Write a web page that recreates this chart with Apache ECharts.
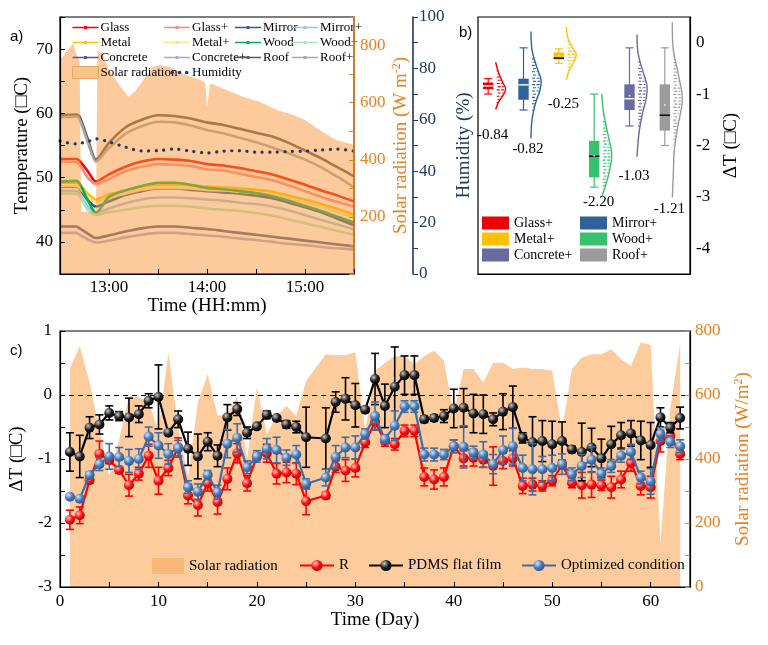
<!DOCTYPE html>
<html><head><meta charset="utf-8">
<script src="https://cdn.jsdelivr.net/npm/echarts@6.0.0/dist/echarts.min.js"></script>
<style>html,body{margin:0;padding:0;background:#fff}#c{width:768px;height:645px}</style>
</head><body><div id="c"></div>
<script>
// ---------------- Panel a data ----------------
const timesA = ['12:30','12:40','12:42','12:47','12:52','13:00','13:10','13:20','13:30','13:40','13:50','14:00','14:10','14:20','14:30','14:40','14:50','15:00','15:10','15:20','15:30'];
const glass     = [52.9,52.9,52.6,51.0,49.4,50.5,51.7,52.5,52.9,52.8,52.6,52.1,51.9,51.5,51.0,50.5,49.7,48.9,48.0,47.2,46.3];
const glassP    = [52.5,52.4,52.0,50.0,49.0,49.8,51.0,51.7,52.1,52.0,51.8,51.3,51.1,50.6,50.1,49.6,48.8,47.9,47.0,46.2,45.5];
const mirror    = [48.6,48.6,48.3,46.5,45.5,46.3,47.3,47.9,48.3,48.3,48.1,47.9,47.7,47.5,47.2,46.8,46.1,45.4,44.6,43.6,42.6];
const mirrorP   = [47.9,47.9,47.5,45.5,44.6,45.2,46.0,46.6,46.9,46.9,46.8,46.6,46.4,46.1,45.9,45.5,44.9,44.2,43.4,42.7,41.9];
const metal     = [49.2,49.2,48.9,47.5,46.6,47.4,48.0,48.6,48.9,48.9,48.8,48.6,48.5,48.3,48.1,47.8,47.2,46.6,45.9,45.1,44.2];
const metalP    = [48.7,48.7,48.4,47.0,46.2,46.9,47.5,48.1,48.4,48.4,48.3,48.1,48.0,47.8,47.6,47.3,46.7,46.1,45.4,44.6,43.7];
const wood      = [49.4,49.5,49.1,46.5,44.5,47.0,48.0,48.7,49.2,49.2,48.9,48.4,48.2,47.9,47.6,47.1,46.4,45.6,44.8,43.9,43.0];
const woodP     = [47.5,47.5,47.1,45.0,44.2,44.6,45.0,45.4,45.6,45.6,45.5,45.2,45.0,44.8,44.5,44.1,43.5,42.9,42.3,41.7,41.1];
const concrete  = [42.4,42.4,42.1,41.3,40.6,41.0,41.6,42.1,42.4,42.4,42.2,42.0,41.7,41.4,41.1,40.8,40.5,40.2,39.9,39.6,39.3];
const concreteP = [41.4,41.4,41.1,40.4,39.9,40.2,40.7,41.1,41.4,41.4,41.2,41.0,40.8,40.5,40.3,40.0,39.7,39.5,39.2,39.0,38.8];
const roof      = [59.7,59.8,59.5,56.0,52.8,55.4,57.8,59.0,59.7,59.6,59.2,58.6,58.2,57.6,57.0,56.4,55.4,54.2,53.0,51.6,50.2];
const roofP     = [59.4,59.5,59.1,55.5,52.5,54.6,56.8,58.0,58.7,58.6,58.1,57.4,56.9,56.2,55.5,54.7,53.8,52.8,51.6,50.1,48.5];
const humidity  = [51.7,50.6,50.8,51.5,52.6,51.4,49.4,47.9,48.0,48.6,47.8,47.1,47.8,48.0,47.4,47.4,47.7,47.8,48.3,48.6,47.8];
const solarTimesA = ['12:30','12:33','12:35','12:38','12:40','12:42','12:43','12:52','12:53','12:56','13:00','13:07','13:12','13:16','13:21','13:27','13:31','13:37','13:47','13:56','13:59','14:00','14:02','14:12','14:22','14:32','14:43','14:53','15:00','15:09','15:19','15:30'];
const solarA = [749,770,784,808,770,749,218,218,784,770,714,656,621,640,679,726,732,726,697,679,670,586,668,644,621,603,574,557,539,504,469,452];

// ---------------- Panel b data ----------------
const bCats = ['Glass+','Mirror+','Metal+','Wood+','Concrete+','Roof+'];
// [whisker low, Q1, median, Q3, whisker high]
const boxStats = [
  [-1.00,-0.905,-0.84,-0.775,-0.70],
  [-1.31,-1.11,-0.82,-0.70,-0.10],
  [-0.40,-0.33,-0.30,-0.19,-0.12],
  [-2.81,-2.62,-2.21,-1.91,-1.00],
  [-1.62,-1.31,-1.09,-0.81,-0.10],
  [-2.00,-1.71,-1.41,-0.81,-0.10]
];
const meanVals = [-0.84,-0.82,-0.25,-2.20,-1.03,-1.21];
// half-violin outline: [ΔT value, relative density]
const violins = [
  [[-0.38,0],[-0.59,0.3],[-0.79,0.75],[-0.90,1],[-1.02,0.75],[-1.15,0.3],[-1.30,0]],
  [[0.22,0],[-0.14,0.1],[-0.46,0.55],[-0.72,1],[-0.92,0.9],[-1.18,0.45],[-1.50,0.1],[-1.86,0]],
  [[0.31,0],[0.06,0.2],[-0.14,0.75],[-0.23,1],[-0.37,0.75],[-0.53,0.3],[-0.72,0]],
  [[-1.00,0],[-1.37,0.2],[-1.76,0.6],[-2.16,1],[-2.48,0.8],[-2.77,0.4],[-3.00,0]],
  [[0.16,0],[-0.20,0.1],[-0.53,0.55],[-0.85,1],[-1.11,0.9],[-1.37,0.55],[-1.76,0.2],[-2.22,0]],
  [[0.40,0],[-0.14,0.1],[-0.66,0.65],[-1.11,1],[-1.63,0.55],[-2.09,0.2],[-2.55,0.1],[-3.01,0]]
];

// ---------------- Panel c data (day 1..63) ----------------
const solarC = [682,753,640,490,345,460,597,593,577,489, 733,499,344,577,665,535,540,594,400,624,
  478,535,566,535,644,686,727,725,725,733, 489,676,700,722,722,696,722,738,707,541,
  681,681,639,701,701,681,686,681,681,676, 489,681,717,727,727,743,712,691,764,757, 136,560,760];
const rVals = [-1.95,-1.88,-1.33,-0.92,-1.02,-1.17,-1.41,-1.23,-0.95,-1.34, -1.14,-0.82,-1.57,-1.72,-1.38,-1.67,-1.31,-0.91,-1.38,-0.96,
  -0.91,-1.23,-1.21,-1.23,-1.66,null,-1.57,-1.12,-1.18,-1.14, -0.74,-0.42,-0.72,-0.77,-0.56,-0.56,-1.28,-1.32,-1.28,-0.80,
  -0.99,-0.98,-1.01,-1.11,-1.03,-0.99,-1.42,-1.40,-1.42,-1.34, -1.09,-1.37,-1.41,-1.40,-1.41,-1.44,-1.32,-1.06,-1.42,-1.44, -0.72,-0.64,-0.92];
const rErr = [0.15,0.13,0.05,0.20,0.05,0.05,0.17,0.10,0.18,0.21, 0.12,0.15,0.13,0.17,0.12,0.19,0.17,0.15,0.12,0.05,
  0.14,0.16,0.16,0.17,0.21,null,0.05,0.09,0.17,0.14, 0.08,0.12,0.08,0.09,0.09,0.09,0.14,0.15,0.14,0.10,
  0.12,0.13,0.12,0.30,0.12,0.12,0.12,0.10,0.08,0.08, 0.06,0.08,0.20,0.20,0.08,0.17,0.13,0.13,0.14,0.17, 0.17,0.08,0.09];
const pdmsVals = [-0.89,-0.96,-0.51,-0.46,-0.28,-0.33,-0.35,-0.30,-0.09,-0.03, -0.59,-0.38,-0.84,-0.96,-0.73,-0.95,-0.35,-0.22,-0.59,-0.49,
  -0.31,-0.36,-0.46,-0.50,-0.66,null,-0.68,-0.11,-0.06,-0.16, -0.23,0.25,-0.17,0.13,0.31,0.31,-0.38,-0.36,-0.33,-0.21,
  -0.20,-0.29,-0.30,-0.38,-0.26,-0.19,-0.67,-0.74,-0.72,-0.77, -0.72,-0.85,-0.89,-0.82,-0.99,-0.77,-0.63,-0.60,-0.71,-0.78, -0.35,-0.51,-0.36];
const pdmsErr = [0.30,0.33,0.17,0.15,0.11,0.07,0.30,0.13,0.11,0.50, 0.03,0.13,0.26,0.35,0.14,0.17,0.20,0.10,0.09,0.02,
  0.06,0.03,0.06,0.09,0.47,null,0.48,0.16,0.33,0.34, 0.03,0.40,0.34,0.62,0.30,0.30,0.05,0.05,0.10,0.30,
  0.30,0.30,0.30,0.10,0.28,0.33,0.08,0.40,0.32,0.36, 0.30,0.05,0.45,0.30,0.30,0.28,0.20,0.20,0.30,0.35, 0.15,0.08,0.17];
const optVals = [-1.59,-1.62,-1.25,-1.08,-0.96,-0.97,-1.03,-1.00,-0.65,-0.79, -0.92,-0.83,-1.44,-1.51,-1.25,-1.52,-0.76,-0.67,-1.13,-0.96,
  -0.84,-0.86,-0.98,-0.93,-1.39,null,-1.29,-0.97,-0.82,-0.82, -0.61,-0.33,-0.69,-0.48,-0.18,-0.18,-0.93,-0.93,-0.93,-0.80,
  -0.81,-0.90,-0.93,-1.08,-0.86,-0.80,-1.14,-1.16,-1.16,-1.14, -1.08,-1.24,-1.11,-1.01,-1.23,-1.11,-0.95,-0.89,-1.29,-1.35, -0.61,-0.73,-0.80];
const optErr = [0.03,0.03,0.05,0.10,0.20,0.15,0.18,0.16,0.15,0.20, 0.16,0.12,0.10,0.12,0.07,0.11,0.22,0.22,0.10,0.09,
  0.16,0.20,0.12,0.14,0.08,null,0.13,0.18,0.16,0.18, 0.08,0.22,0.07,0.23,0.09,0.09,0.10,0.10,0.08,0.10,
  0.33,0.10,0.20,0.15,0.22,0.28,0.20,0.40,0.20,0.20, 0.16,0.10,0.18,0.20,0.09,0.10,0.10,0.12,0.10,0.20, 0.10,0.09,0.10];

// ---------------- styles / layout ----------------
const SERIF = '"Liberation Serif","Times New Roman",serif';
const ORANGE = '#E8801F', NAVY = '#1F3864';
const lineColors = {Glass:'#FF0000','Glass+':'#FF8585',Mirror:'#2F5597','Mirror+':'#9DC3E6',Metal:'#FFC000','Metal+':'#FFE08A',
  Wood:'#00B050','Wood+':'#A8E6C0',Concrete:'#505A8C','Concrete+':'#A9A9D6',Roof:'#595959','Roof+':'#A6A6A6'};
const bColors = ['#EE0000','#2F6299','#FFC000','#35C16E','#6A6AA0','#9B9B9B'];
const bMedianColors = ['#ffffff','#ffffff','#000000','#000000','#ffffff','#000000'];
const meanLabelY = [-1.80,-2.07,-1.19,-3.10,-2.60,-3.24];
const VW = 10;
const PAD = 'M0,0L0.01,0L0.01,0.01Z M0,12L0.01,12L0.01,11.99Z ';
const LINE_ICON = 'path://' + PAD + 'M0,5.3L26,5.3L26,6.7L0,6.7Z M11.6,4.6L14.4,4.6L14.4,7.4L11.6,7.4Z';
const DOT_ICON = 'path://' + PAD + 'M5,6a1.8,1.8 0 1,0 3.6,0a1.8,1.8 0 1,0 -3.6,0Z M12.2,6a1.8,1.8 0 1,0 3.6,0a1.8,1.8 0 1,0 -3.6,0Z M19.4,6a1.8,1.8 0 1,0 3.6,0a1.8,1.8 0 1,0 -3.6,0Z';

const toH = s => { const [h,m] = s.split(':').map(Number); return h + m/60; };
const pairs = (xs, ys) => xs.map((x,i) => [typeof x === 'string' ? toH(x) : x, ys[i]]);
const days = solarC.map((_,i) => i+1);

const tempSeries = [['Glass',glass],['Glass+',glassP],['Mirror',mirror],['Mirror+',mirrorP],['Metal',metal],['Metal+',metalP],
  ['Wood',wood],['Wood+',woodP],['Concrete',concrete],['Concrete+',concreteP],['Roof',roof],['Roof+',roofP]];

const series = [];
tempSeries.forEach(([name, vals]) => {
  series.push({name, type:'line', xAxisIndex:0, yAxisIndex:0, data: pairs(timesA, vals), showSymbol:false, symbol:'none',
    smooth:0.25, lineStyle:{color:lineColors[name], width:2.6}, itemStyle:{color:lineColors[name]}, z:2, silent:true});
});
series.push({name:'Solar radiation', type:'line', xAxisIndex:0, yAxisIndex:1, data: pairs(solarTimesA, solarA), symbol:'none',
  lineStyle:{width:0, color:'#F9C38E'}, itemStyle:{color:'#F9C38E'}, areaStyle:{color:'#FB9737', opacity:0.5}, z:3, silent:true});
series.push({name:'Humidity', type:'line', xAxisIndex:0, yAxisIndex:2, data: pairs(timesA, humidity), symbol:'none', smooth:0.3,
  lineStyle:{color:NAVY, width:3.2, type:[0.1,7.5], cap:'round'}, itemStyle:{color:NAVY}, z:4, silent:true});

// panel b
function seg(x1,y1,x2,y2,stroke,w,dash){ return {type:'line', shape:{x1,y1,x2,y2}, style:{stroke, lineWidth:w, lineDash:dash||null}}; }
function bRender(i){
  return function(params, api){
    const c = bColors[i];
    const X = api.coord([i, 0])[0];
    const Y = v => api.coord([i, v])[1];
    const [wl,q1,md,q3,wh] = boxStats[i];
    const bx = X - 7.5, hw = 5.2;
    const ch = [];
    ch.push(seg(bx,Y(wl),bx,Y(wh),c,1.2));
    ch.push(seg(bx-4,Y(wl),bx+4,Y(wl),c,1.2));
    ch.push(seg(bx-4,Y(wh),bx+4,Y(wh),c,1.2));
    ch.push({type:'rect', shape:{x:bx-hw, y:Y(q3), width:2*hw, height:Y(q1)-Y(q3)}, style:{fill:c}});
    ch.push(seg(bx-hw,Y(md),bx+hw,Y(md),bMedianColors[i],1.4));
    ch.push({type:'circle', shape:{cx:bx, cy:Y(meanVals[i]), r:1}, style:{fill:'#dddddd'}});
    const vp = violins[i].map(([v,w]) => [X + w*VW, Y(v)]);
    let n = 0;
    for (let yy = vp[0][1] + 2; yy < vp[vp.length-1][1] - 1; yy += 3.2) {
      let w = 0;
      for (let k = 0; k < vp.length-1; k++) {
        if (yy >= vp[k][1] && yy <= vp[k+1][1]) { const t = (yy - vp[k][1])/(vp[k+1][1]-vp[k][1]); w = vp[k][0] + t*(vp[k+1][0]-vp[k][0]) - X; break; }
      }
      if (w > 1.5) ch.push(seg(X+1 + (n % 2), yy, X + w*0.9, yy, c, 1.1, [3,1.5]));
      n++;
    }
    ch.push({type:'polyline', shape:{points:vp, smooth:0.35}, style:{stroke:c, fill:null, lineWidth:1.4}});
    ch.push({type:'text', style:{text: meanVals[i].toFixed(2), x: X-3, y: Y(meanLabelY[i]), align:'center', textAlign:'center', verticalAlign:'middle', textVerticalAlign:'middle', fontSize:15, fontFamily:SERIF, fill:'#000'}});
    return {type:'group', children: ch};
  };
}
bCats.forEach((name, i) => {
  series.push({name: name + '|b', type:'custom', xAxisIndex:1, yAxisIndex:3, data:[[i, meanVals[i]]], renderItem: bRender(i),
    itemStyle:{color:bColors[i]}, silent:true, z:3});
});

// panel c
function errRender(color){
  return function(params, api){
    const x = api.value(0), lo = api.value(1), hi = api.value(2);
    const p1 = api.coord([x, lo]), p2 = api.coord([x, hi]);
    return {type:'group', children:[
      seg(p1[0],p1[1],p2[0],p2[1],color,1.6), seg(p1[0]-4,p1[1],p1[0]+4,p1[1],color,1.6), seg(p2[0]-4,p2[1],p2[0]+4,p2[1],color,1.6)]};
  };
}
function errData(vals, errs){ const out=[]; vals.forEach((v,i)=>{ if(v!==null) out.push([i+1, v-errs[i], v+errs[i]]); }); return out; }
function ptsData(vals){ const out=[]; vals.forEach((v,i)=>{ if(v!==null) out.push([i+1, v]); }); return out; }
function ball(c0,c1,c2){ return {type:'radial', x:0.35, y:0.32, r:0.7, colorStops:[{offset:0,color:c0},{offset:0.55,color:c1},{offset:1,color:c2}]}; }

series.push({name:'Solar radiation|c', type:'line', xAxisIndex:2, yAxisIndex:5, data: pairs(days, solarC), symbol:'none',
  lineStyle:{width:0, color:'#FCC590'}, itemStyle:{color:'#F9B877'}, areaStyle:{color:'#FDCB9C', opacity:1}, z:1, silent:true});
const cDefs = [
  ['R', rVals, rErr, '#FF0000', ball('#FFC8C8','#FF1010','#C00000')],
  ['PDMS flat film', pdmsVals, pdmsErr, '#000000', ball('#C8C8C8','#202020','#000000')],
  ['Optimized condition', optVals, optErr, '#3E6DA6', ball('#D5E6F8','#4A7DB8','#2E5A8E')]
];
cDefs.forEach(([name, vals, errs, col, grad], k) => {
  series.push({name: name+'|err', type:'custom', xAxisIndex:2, yAxisIndex:4, data: errData(vals, errs), encode:{x:0, y:[1,2]},
    renderItem: errRender(col), silent:true, z:2+k*2});
  const s = {name, type:'line', xAxisIndex:2, yAxisIndex:4, data: ptsData(vals), symbol:'circle', symbolSize:10, showSymbol:true,
    lineStyle:{color:col, width:2.2}, itemStyle:{color:grad, borderWidth:0}, z:3+k*2, silent:true};
  if (k === 0) s.markLine = {silent:true, symbol:['none','none'], label:{show:false}, z:1.5,
    lineStyle:{type:[5,4], color:'#000', width:1.2}, data:[{yAxis:0}]};
  series.push(s);
});

const axLabel = extra => Object.assign({fontSize:17, fontFamily:SERIF, color:'#000'}, extra||{});
const blackLine = {show:true, onZero:false, lineStyle:{color:'#000', width:1.2}};
const nameStyle = extra => Object.assign({fontSize:19, fontFamily:SERIF, color:'#000'}, extra||{});
const legA = (left, items) => ({left, top:21, orient:'vertical', itemGap:2, itemWidth:26, itemHeight:12, selectedMode:false, padding:0,
  textStyle:{fontSize:13, fontFamily:SERIF, color:'#000', padding:[0,0,0,-3]}, data: items});
const li = n => ({name:n, icon:LINE_ICON});

const option = {
  animation:false,
  backgroundColor:'#fff',
  textStyle:{fontFamily:SERIF},
  grid:[
    {left:60, top:17, width:294, height:257, show:true, borderColor:'#000', borderWidth:1.2, z:6, backgroundColor:'transparent'},
    {left:478, top:17, width:212, height:257, show:true, borderColor:'#000', borderWidth:1.2, backgroundColor:'transparent'},
    {left:60, top:331, width:630, height:256, show:true, borderColor:'#000', borderWidth:1.2, z:6, backgroundColor:'transparent'}
  ],
  xAxis:[
    {type:'value', gridIndex:0, min:12.5, max:15.5, interval:0.5, z:6,
      axisLine:blackLine, axisTick:{inside:true, length:5, lineStyle:{color:'#000'}}, splitLine:{show:false},
      axisLabel:axLabel({margin:5, formatter: v => Number.isInteger(v) ? v + ':00' : ''}),
      name:'Time (HH:mm)', nameLocation:'middle', nameGap:21, nameTextStyle:nameStyle()},
    {type:'category', gridIndex:1, data:bCats, boundaryGap:true,
      axisLine:blackLine, axisTick:{inside:true, length:5, alignWithLabel:true, lineStyle:{color:'#000'}}, axisLabel:{show:false}, splitLine:{show:false}},
    {type:'value', gridIndex:2, min:0, max:64, interval:5, z:6,
      axisLine:blackLine, axisTick:{inside:true, length:5, lineStyle:{color:'#000'}}, splitLine:{show:false},
      axisLabel:axLabel({margin:6, formatter: v => v % 10 === 0 ? String(v) : ''}),
      name:'Time (Day)', nameLocation:'middle', nameGap:24, nameTextStyle:nameStyle()}
  ],
  yAxis:[
    {type:'value', gridIndex:0, min:35, max:75, interval:5, z:6,
      axisLine:blackLine, axisTick:{inside:true, length:5, lineStyle:{color:'#000'}}, splitLine:{show:false},
      axisLabel:axLabel({margin:7, formatter: v => (v % 10 === 0 && v >= 40 && v <= 70) ? String(v) : ''}),
      name:'Temperature (\u25A1C)', nameLocation:'middle', nameGap:28, nameTextStyle:nameStyle()},
    {type:'value', gridIndex:0, position:'right', min:0, max:900, interval:100, z:6,
      axisLine:{show:true, onZero:false, lineStyle:{color:ORANGE, width:1.6}}, axisTick:{inside:true, length:5, lineStyle:{color:ORANGE}}, splitLine:{show:false},
      axisLabel:axLabel({color:ORANGE, margin:6, formatter: v => (v % 200 === 0 && v > 0 && v < 900) ? String(v) : ''}),
      name:'Solar radiation (W m{sup|-2})', nameLocation:'middle', nameGap:37,
      nameTextStyle:nameStyle({color:ORANGE, rich:{sup:{fontSize:12, fontFamily:SERIF, color:ORANGE, padding:[0,0,9,0]}}})},
    {type:'value', gridIndex:0, position:'right', offset:59, min:0, max:100, interval:10, z:6,
      axisLine:{show:true, onZero:false, lineStyle:{color:NAVY, width:1.6}}, axisTick:{inside:false, length:5, lineStyle:{color:NAVY}}, splitLine:{show:false},
      axisLabel:axLabel({color:NAVY, margin:6, formatter: v => v % 20 === 0 ? String(v) : ''}),
      name:'Humidity (%)', nameLocation:'middle', nameGap:42, nameTextStyle:nameStyle({color:NAVY})},
    {type:'value', gridIndex:1, position:'right', min:-4.5, max:0.5, interval:0.5,
      axisLine:blackLine, axisTick:{inside:true, length:5, lineStyle:{color:'#000'}}, splitLine:{show:false},
      axisLabel:axLabel({margin:6, formatter: v => Number.isInteger(v) ? String(v) : ''}),
      name:'\u0394T (\u25A1C)', nameLocation:'middle', nameGap:32, nameTextStyle:nameStyle()},
    {type:'value', gridIndex:2, min:-3, max:1, interval:0.5, z:6,
      axisLine:blackLine, axisTick:{inside:true, length:5, lineStyle:{color:'#000'}}, splitLine:{show:false},
      axisLabel:axLabel({margin:8, formatter: v => Number.isInteger(v) ? String(v) : ''}),
      name:'\u0394T (\u25A1C)', nameLocation:'middle', nameGap:26, nameTextStyle:nameStyle()},
    {type:'value', gridIndex:2, position:'right', min:0, max:800, interval:100, z:6,
      axisLine:blackLine, axisTick:{inside:true, length:5, lineStyle:{color:ORANGE}}, splitLine:{show:false},
      axisLabel:axLabel({color:ORANGE, margin:5, formatter: v => v % 200 === 0 ? String(v) : ''}),
      name:'Solar radiation (W/m{sup|2})', nameLocation:'middle', nameGap:43,
      nameTextStyle:nameStyle({color:ORANGE, rich:{sup:{fontSize:12, fontFamily:SERIF, color:ORANGE, padding:[0,0,9,0]}}})}
  ],
  legend:[
    legA(72, [li('Glass'), li('Metal'), li('Concrete'), {name:'Solar radiation', icon:'rect', itemStyle:{color:'#F9C38E', borderColor:'#F2A35C', borderWidth:1}}]),
    legA(164, [li('Glass+'), li('Metal+'), li('Concrete+'), {name:'Humidity', icon:DOT_ICON}]),
    legA(235, [li('Mirror'), li('Wood'), li('Roof')]),
    legA(292, [li('Mirror+'), li('Wood+'), li('Roof+')]),
    {left:482, top:216, orient:'vertical', itemGap:2, itemWidth:27, itemHeight:13, selectedMode:false, padding:0, icon:'rect',
      textStyle:{fontSize:14, fontFamily:SERIF, color:'#000'}, formatter: n => n.replace('|b',''),
      data:['Glass+|b','Metal+|b','Concrete+|b']},
    {left:580, top:216, orient:'vertical', itemGap:2, itemWidth:27, itemHeight:13, selectedMode:false, padding:0, icon:'rect',
      textStyle:{fontSize:14, fontFamily:SERIF, color:'#000'}, formatter: n => n.replace('|b',''),
      data:['Mirror+|b','Wood+|b','Roof+|b']},
    {left:152, top:558, itemWidth:32, itemHeight:16, selectedMode:false, padding:0, icon:'rect',
      textStyle:{fontSize:15, fontFamily:SERIF, color:'#000'}, formatter: n => n.replace('|c',''),
      data:[{name:'Solar radiation|c', icon:'rect', itemStyle:{color:'#F9B877'}}]},
    {left:299, top:558, itemWidth:34, itemHeight:14, selectedMode:false, padding:0,
      textStyle:{fontSize:15, fontFamily:SERIF, color:'#000'}, data:['R']},
    {left:368, top:558, itemWidth:34, itemHeight:14, selectedMode:false, padding:0,
      textStyle:{fontSize:15, fontFamily:SERIF, color:'#000'}, data:['PDMS flat film']},
    {left:521, top:558, itemWidth:34, itemHeight:14, selectedMode:false, padding:0,
      textStyle:{fontSize:15, fontFamily:SERIF, color:'#000'}, data:['Optimized condition']}
  ],
  graphic:[
    {type:'text', left:10, top:29, style:{text:'a)', fontSize:15, fontFamily:'"Liberation Sans",Arial,sans-serif', fill:'#000'}},
    {type:'text', left:459, top:25, style:{text:'b)', fontSize:15, fontFamily:'"Liberation Sans",Arial,sans-serif', fill:'#000'}},
    {type:'text', left:10, top:343, style:{text:'c)', fontSize:15, fontFamily:'"Liberation Sans",Arial,sans-serif', fill:'#000'}}
  ],
  series
};
const chart = echarts.init(document.getElementById('c'), null, {renderer:'canvas'});
chart.setOption(option);
</script></body></html>
